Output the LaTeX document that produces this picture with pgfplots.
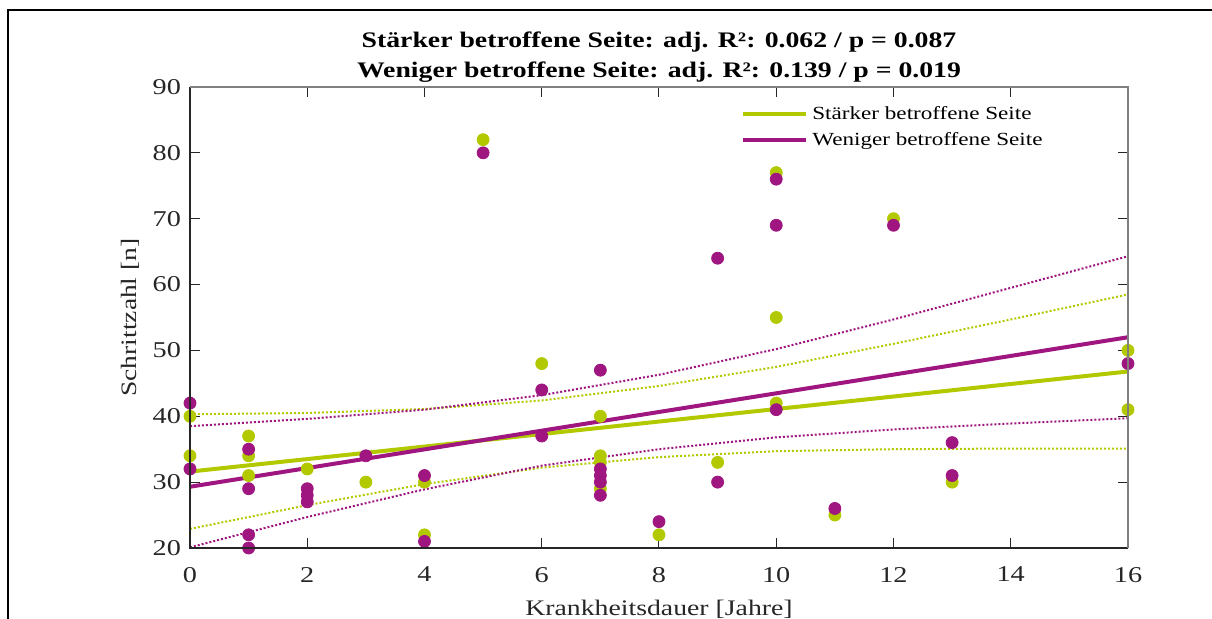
\documentclass[border=0pt]{standalone}
\usepackage{fontspec}
\setmainfont{Liberation Serif}[FakeStretch=1.25]
\usepackage{pgfplots}
\pgfplotsset{compat=1.18}

\definecolor{lime}{RGB}{178,201,0}
\definecolor{plum}{RGB}{160,22,128}
\definecolor{axgray}{RGB}{38,38,38}

\begin{document}
\begin{tikzpicture}
\path[use as bounding box] (-95pt,-35.5pt) rectangle (511pt,274pt);
\begin{axis}[
  at={(0,0)}, anchor=south west,
  scale only axis,
  width=469pt, height=230.5pt,
  xmin=0, xmax=16, ymin=20, ymax=90,
  xtick={0,2,...,16}, ytick={20,30,...,90},
  tick align=inside,
  major tick length=5pt,
  tick style={axgray, line width=0.5pt},
  axis line style={draw=none},
  ticklabel style={font=\fontsize{11.3}{13}\selectfont, text=axgray},
  xticklabel style={yshift=-6pt},
  yticklabel style={xshift=-1pt},
  /pgf/number format/assume math mode=true,
  xlabel={Krankheitsdauer [Jahre]},
  ylabel={Schrittzahl [n]},
  xlabel style={font=\fontsize{11.1}{13}\selectfont, text=axgray, yshift=-2pt},
  ylabel style={font=\fontsize{11}{13}\selectfont, text=axgray},
  title={Stärker betroffene Seite: adj. R²: 0.062 / p = 0.087\\Weniger betroffene Seite: adj. R²: 0.139 / p = 0.019},
  title style={font=\bfseries\fontsize{11.1}{15}\selectfont, align=center, at={(0.5,1)}, anchor=south, yshift=-7pt},
  legend cell align={left},
  legend style={at={(0.581,0.976)}, anchor=north west, draw=none, fill=none,
    font=\fontsize{9.25}{12}\selectfont, row sep=1pt},
  legend image code/.code={\draw[#1, line width=2pt] (0pt,0pt) -- (28pt,0pt);
    \path (0pt,0pt) -- (31.5pt,0pt);},
  clip=false,
]
% lineare Fits
\addplot[lime, line width=2pt] coordinates {(0,31.6) (16,46.8)};
\addlegendentry{Stärker betroffene Seite}
\addplot[plum, line width=2pt] coordinates {(0,29.3) (16,52.0)};
\addlegendentry{Weniger betroffene Seite}

% Konfidenzbaender
\addplot[lime, line width=1pt, dash pattern=on 1pt off 1pt, forget plot] coordinates {
(0,40.3) (2,40.5) (4,41.1) (6,42.4) (8,44.6) (10,47.5) (12,51.0) (14,54.7) (16,58.5)};
\addplot[lime, line width=1pt, dash pattern=on 1pt off 1pt, forget plot] coordinates {
(0,22.9) (2,26.5) (4,29.7) (6,32.2) (8,33.8) (10,34.7) (12,35.0) (14,35.1) (16,35.1)};
\addplot[plum, line width=1pt, dash pattern=on 1pt off 1pt, forget plot] coordinates {
(0,38.5) (2,39.6) (4,41.0) (6,43.2) (8,46.3) (10,50.2) (12,54.7) (14,59.5) (16,64.3)};
\addplot[plum, line width=1pt, dash pattern=on 1pt off 1pt, forget plot] coordinates {
(0,20.1) (2,24.7) (4,28.9) (6,32.5) (8,35.0) (10,36.8) (12,38.0) (14,38.9) (16,39.7)};

% Messpunkte
\addplot[only marks, mark=*, mark size=3pt, lime, forget plot] coordinates {
(0,40) (0,34) (1,37) (1,34) (1,31) (2,32) (3,30) (4,30) (4,22) (5,82) (6,48)
(7,40) (7,34) (7,33) (7,29) (8,22) (9,33) (10,77) (10,55) (10,42) (11,25)
(12,70) (13,30) (16,50) (16,41)};
\addplot[only marks, mark=*, mark size=3pt, plum, forget plot] coordinates {
(0,42) (0,32) (1,35) (1,29) (1,22) (1,20) (2,29) (2,28) (2,27) (3,34) (4,31)
(4,21) (5,80) (6,44) (6,37) (7,47) (7,32) (7,31) (7,30) (7,28) (8,24) (9,64)
(9,30) (10,76) (10,69) (10,41) (11,26) (12,69) (13,36) (13,31) (16,48)};
\end{axis}
% Achsenrahmen
\draw[axgray, line width=0.6pt] (0,230.5pt) -- (0,0) -- (469pt,0);
\draw[gray, line width=0.9pt] (0,230.5pt) -- (469pt,230.5pt) -- (469pt,0);
% aeusserer Rahmen
\draw[black, line width=1pt] (-91pt,-60pt) -- (-91pt,269pt) -- (540pt,269pt);
\end{tikzpicture}
\end{document}
